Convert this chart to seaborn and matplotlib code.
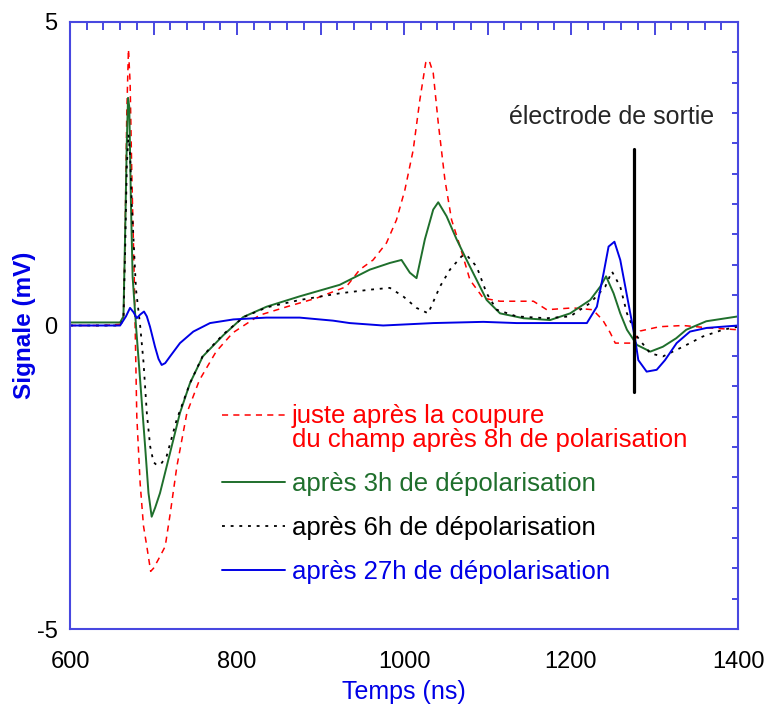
import numpy as np
import seaborn as sns
import matplotlib.pyplot as plt
from matplotlib.ticker import MultipleLocator, FuncFormatter
from matplotlib.legend_handler import HandlerLine2D

sns.set_style("white")
plt.rcParams["font.family"] = ["Liberation Sans", "DejaVu Sans"]
plt.rcParams["axes.unicode_minus"] = False

# valeurs (temps en ns, signal en mV)
t_red = [600, 640, 660, 664, 666, 668, 670, 672, 674, 677, 680, 684, 688, 692, 696.6, 700, 706,
         714, 720, 728, 740, 755, 775, 795, 827, 860, 895, 931, 947, 963, 979, 991, 1001, 1011,
         1019, 1026, 1030, 1035, 1041, 1049, 1057, 1067, 1079, 1095, 1115, 1155, 1171, 1202,
         1226, 1238, 1247, 1253, 1274, 1283, 1306, 1334, 1366, 1400]
s_red = [0, 0, 0.02, 0.1, 1.5, 3.5, 4.55, 4.0, 2.5, 0.75, -1.5, -2.6, -3.3, -3.64, -4.05, -4.0, -3.85,
         -3.64, -3.1, -2.32, -1.44, -0.9, -0.43, -0.12, 0.17, 0.31, 0.45, 0.64, 0.92, 1.08, 1.36, 1.74,
         2.23, 2.89, 3.72, 4.33, 4.37, 4.16, 3.34, 2.4, 1.74, 1.31, 0.75, 0.45, 0.4, 0.4, 0.26, 0.29,
         0.26, 0.09, -0.12, -0.29, -0.29, -0.09, -0.02, 0.0, -0.04, -0.07]

t_green = [600, 660, 664, 666, 668, 669.5, 671, 673, 675, 679, 684, 690, 694, 697.8, 702, 707.8,
           719.8, 731.7, 743.7, 759, 783.6, 807.5, 835.5, 875, 923, 959, 983, 997, 1007, 1015,
           1025, 1035, 1041, 1051, 1063, 1075, 1087, 1099, 1115, 1143, 1175, 1199, 1223, 1235,
           1242, 1251, 1259, 1267, 1279, 1295, 1310, 1326, 1338, 1362, 1400]
s_green = [0.05, 0.05, 0.15, 1.5, 3.0, 3.75, 3.6, 2.0, 0.8, 0.0, -0.9, -2.0, -2.76, -3.15, -3.0, -2.76,
           -2.1, -1.44, -0.95, -0.51, -0.16, 0.14, 0.31, 0.48, 0.67, 0.92, 1.03, 1.08, 0.87, 0.78,
           1.42, 1.91, 2.03, 1.80, 1.42, 1.08, 0.75, 0.42, 0.2, 0.12, 0.09, 0.2, 0.42, 0.64,
           0.81, 0.53, 0.2, -0.07, -0.32, -0.43, -0.35, -0.21, -0.07, 0.07, 0.15]

t_black = [600, 660, 664, 666, 668, 670, 672, 674, 679, 684, 688, 692, 696, 700, 703.8, 709, 715.8,
           727.8, 743.7, 759, 784, 808, 836, 875, 923, 959, 983, 999, 1015, 1029, 1043, 1055, 1069,
           1075, 1087, 1099, 1111, 1135, 1171, 1199, 1223, 1241, 1249, 1259, 1267, 1279, 1295,
           1310, 1334, 1358, 1382, 1400]
s_black = [0.0, 0.0, 0.1, 1.2, 2.6, 3.15, 2.8, 2.0, 0.6, 0.0, -0.6, -1.44, -1.99, -2.25, -2.3, -2.28, -2.15,
           -1.55, -0.95, -0.5, -0.14, 0.14, 0.3, 0.42, 0.53, 0.59, 0.62, 0.48, 0.29, 0.2, 0.64, 0.92, 1.14,
           1.16, 0.97, 0.53, 0.26, 0.15, 0.12, 0.15, 0.37, 0.64, 0.89, 0.64, 0.2, -0.18, -0.46,
           -0.51, -0.35, -0.18, -0.07, -0.02]

t_blue = [600, 660, 667, 671.9, 676, 680, 684, 688.6, 692, 695.8, 701.8, 706, 709.8, 714, 719.8, 731.7,
          747.7, 767.7, 795.6, 835, 875, 915, 935, 975, 1035, 1095, 1135, 1175, 1219, 1231, 1239,
          1245, 1252, 1259, 1265, 1271, 1277, 1280.6, 1290.6, 1302.6, 1312.6, 1326.5, 1342.5,
          1362.5, 1400]
s_blue = [0.0, 0.0, 0.15, 0.29, 0.22, 0.12, 0.18, 0.23, 0.15, -0.02, -0.35, -0.55, -0.65, -0.62, -0.51, -0.29,
          -0.1, 0.04, 0.1, 0.13, 0.13, 0.08, 0.04, 0.0, 0.04, 0.06, 0.04, 0.04, 0.04, 0.31, 0.86,
          1.3, 1.38, 1.08, 0.64, 0.2, -0.24, -0.57, -0.76, -0.73, -0.57, -0.29, -0.1,
          -0.04, 0.0]

labels = ["juste après la coupure\ndu champ après 8h de polarisation",
          "après 3h de dépolarisation",
          "après 6h de dépolarisation",
          "après 27h de dépolarisation"]

electrode_t = 1275.5
electrode_s = (-1.09, 2.9)

RED, GREEN, BLACK, BLUE = "#ff0000", "#1f6f2c", "#000000", "#0000e6"
AXC = "#4848e0"

fig = plt.figure(figsize=(7.68, 7.11), dpi=100)
ax = fig.add_axes([70 / 768, 1 - 629 / 711, 668 / 768, 607 / 711])

series = [(t_red, s_red, RED, (0, (4, 3.4)), 1.1),
          (t_green, s_green, GREEN, "-", 1.4),
          (t_black, s_black, BLACK, (0, (1.6, 3.2)), 1.3),
          (t_blue, s_blue, BLUE, "-", 1.4)]
for (t, s, c, ls, lw), lab in zip(series, labels):
    sns.lineplot(x=t, y=s, ax=ax, color=c, linestyle=ls, linewidth=lw, label=lab, sort=False)

ax.plot([electrode_t, electrode_t], electrode_s, color="black", lw=2.3)
ax.text(1249, 3.43, "électrode de sortie", fontsize=18, ha="center", va="center")

ax.set_xlim(600, 1400)
ax.set_ylim(-5, 5)
ax.xaxis.set_major_locator(MultipleLocator(100))
ax.xaxis.set_major_formatter(FuncFormatter(lambda v, p: f"{v:.0f}" if round(v) % 200 == 0 else ""))
ax.xaxis.set_minor_locator(MultipleLocator(20))
ax.yaxis.set_major_locator(MultipleLocator(5))
ax.yaxis.set_minor_locator(MultipleLocator(0.5))

ax.tick_params(axis="both", which="both", direction="in", top=True, right=True,
               color=AXC, width=1.4, labelsize=17, labelcolor="black")
ax.tick_params(axis="x", which="major", length=9, pad=16)
ax.tick_params(axis="x", which="minor", length=5.5)
ax.tick_params(axis="y", which="both", length=4.5, pad=9)

for sp in ax.spines.values():
    sp.set_color(AXC)
    sp.set_linewidth(1.5)

ax.set_xlabel("Temps (ns)", fontsize=18, color=BLUE)
ax.set_ylabel("Signale (mV)", fontsize=17.5, color=BLUE, fontweight="bold")
ax.xaxis.set_label_coords(0.5, -(692 - 629) / 607)
ax.xaxis.label.set_va("center")
ax.yaxis.set_label_coords((25 - 70) / 668, 0.5)
ax.yaxis.label.set_va("center")


class TopLineHandler(HandlerLine2D):
    def create_artists(self, legend, orig_handle, xdescent, ydescent, width, height, fontsize, trans):
        arts = super().create_artists(legend, orig_handle, xdescent, ydescent, width, height, fontsize, trans)
        for a in arts:
            a.set_ydata(np.asarray(a.get_ydata()) + 0.5 * fontsize)
        return arts


handles, labs = ax.get_legend_handles_labels()
leg = ax.legend(handles, labs, loc="upper left", bbox_to_anchor=(222 / 768, 1 - 404 / 711),
                bbox_transform=fig.transFigure, frameon=False, fontsize=18.5, handlelength=2.45,
                handletextpad=0.27, labelspacing=0.78, borderpad=0, borderaxespad=0,
                labelcolor="linecolor", handler_map={handles[0]: TopLineHandler()})
leg.get_texts()[0].set_linespacing(0.98)

fig.savefig("out.png", dpi=100)
